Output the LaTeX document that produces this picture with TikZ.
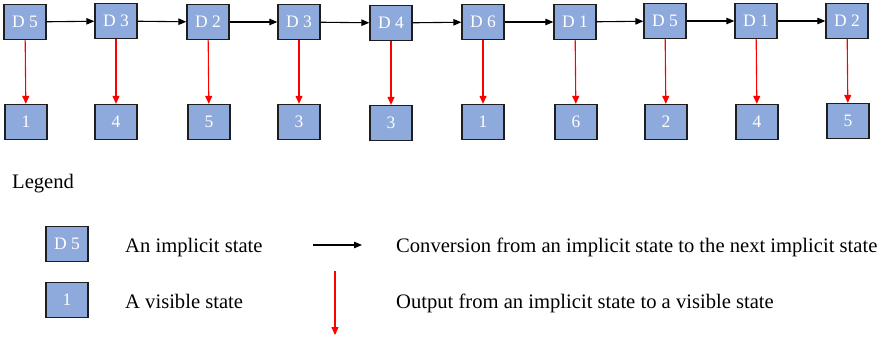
\documentclass[tikz,border=0pt]{standalone}
\usepackage{fontspec}
\setmainfont{Liberation Serif}
\usetikzlibrary{arrows.meta}
\definecolor{stateblue}{HTML}{8EA9DB}
\definecolor{stateline}{HTML}{1E1E1E}
\tikzset{
  statebox/.style={rectangle,draw=stateline,line width=1.3pt,fill=stateblue,text=white,
    minimum width=42pt,minimum height=35pt,inner sep=0pt,font=\fontsize{17.5}{17.5}\selectfont},
  legendtext/.style={anchor=base west,inner sep=0pt,font=\fontsize{20.6}{20.6}\selectfont},
  convarrow/.style={draw=black,line width=1.1pt,-{Triangle[length=8pt,width=6.5pt]}},
  outarrow/.style={draw=red,line width=1.1pt,-{Triangle[length=8pt,width=7pt]}}
}
\begin{document}
\begin{tikzpicture}[x=1pt,y=-1pt]
        \useasboundingbox (0,0) rectangle (882,341);
        \begin{scope}[every node/.style={statebox}]
          \node (I1) at (25,22) {D 5};
          \node (I2) at (116,21) {D 3};
          \node (I3) at (208,22) {D 2};
          \node (I4) at (299,22) {D 3};
          \node (I5) at (391,23) {D 4};
          \node (I6) at (483,22) {D 6};
          \node (I7) at (575,22) {D 1};
          \node (I8) at (665,21) {D 5};
          \node (I9) at (756,21) {D 1};
          \node (I10) at (847,21) {D 2};

          \node (V1) at (26,122) {1};
          \node (V2) at (116,122) {4};
          \node (V3) at (209,122) {5};
          \node (V4) at (299,122) {3};
          \node (V5) at (391,123) {3};
          \node (V6) at (483,122) {1};
          \node (V7) at (576,122) {6};
          \node (V8) at (666,122) {2};
          \node (V9) at (757,122) {4};
          \node (V10) at (848,121) {5};

          \node (Limplicit) at (67,244) {D 5};
          \node (Lvisible) at (67,300) {1};
        \end{scope}
        \begin{scope}[every edge/.style={convarrow}]
          \path (I1) edge (I2);
          \path (I2) edge (I3);
          \path (I3) edge (I4);
          \path (I4) edge (I5);
          \path (I5) edge (I6);
          \path (I6) edge (I7);
          \path (I7) edge (I8);
          \path (I8) edge (I9);
          \path (I9) edge (I10);
        \end{scope}
        \begin{scope}[every edge/.style={outarrow}]
          \path (I1) edge (V1);
          \path (I2) edge (V2);
          \path (I3) edge (V3);
          \path (I4) edge (V4);
          \path (I5) edge (V5);
          \path (I6) edge (V6);
          \path (I7) edge (V7);
          \path (I8) edge (V8);
          \path (I9) edge (V9);
          \path (I10) edge (V10);
        \end{scope}

        % legend
        \node[legendtext] (legend) at (12,188) {Legend};
        \node[legendtext] (implicit) at (125,252) {An implicit state};
        \node[legendtext] (visible) at (125,308) {A visible state};
        \node[legendtext] (conversion) at (396,252) {Conversion from an implicit state to the next implicit state};
        \node[legendtext] (output) at (396,308) {Output from an implicit state to a visible state};
        \coordinate (convstart) at (313,245);
        \coordinate (convend) at (362,245);
        \coordinate (outstart) at (335,271);
        \coordinate (outend) at (335,335);
        \draw[convarrow] (convstart) -- (convend);
        \draw[outarrow] (outstart) -- (outend);
\end{tikzpicture}
\end{document}
